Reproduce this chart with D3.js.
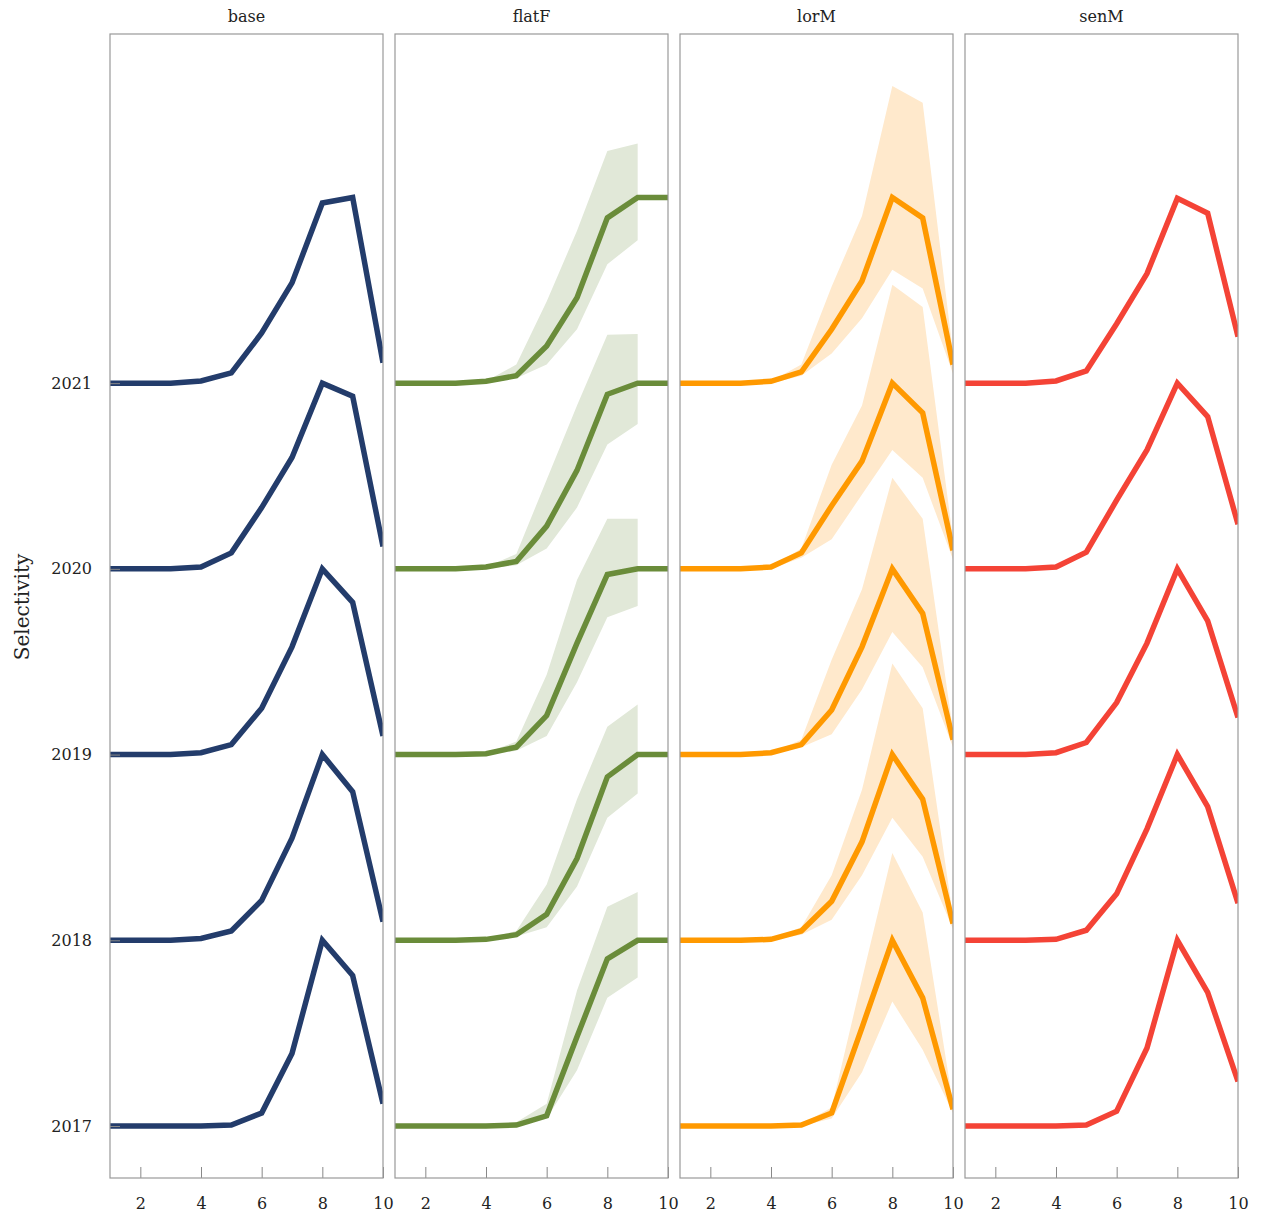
<!DOCTYPE html>
<meta charset="utf-8">
<style>
  body { margin: 0; background: #fff; }
  text { font-family: "DejaVu Serif", "Liberation Serif", serif; fill: #222; }
  .frame { fill: none; stroke: #999; stroke-width: 1.2px; }
  .axis path { display: none; }
  .axis line { stroke: #888; }
</style>
<body>
<script src="https://d3js.org/d3.v7.min.js"></script>
<script>
// ages on x, years are stacked ridges (1 selectivity unit = 1 year step)
var ages = [1, 2, 3, 4, 5, 6, 7, 8, 9, 10];
var years = [2017, 2018, 2019, 2020, 2021];
var panels = ["base", "flatF", "lorM", "senM"];
var xTicks = [2, 4, 6, 8, 10];

// rows = years 2017..2021, cols = ages 1..10
var baseSel = [
  [0, 0, 0, 0, 0.005, 0.07, 0.39, 1.0, 0.81, 0.12],
  [0, 0, 0, 0.01, 0.05, 0.215, 0.55, 1.0, 0.80, 0.10],
  [0, 0, 0, 0.01, 0.054, 0.25, 0.58, 1.0, 0.82, 0.10],
  [0, 0, 0, 0.01, 0.086, 0.33, 0.60, 1.0, 0.93, 0.12],
  [0, 0, 0, 0.012, 0.055, 0.27, 0.54, 0.97, 1.0, 0.11]
];

var flatFSel = [
  [0, 0, 0, 0, 0.005, 0.055, 0.48, 0.90, 1.0, 1.0],
  [0, 0, 0, 0.005, 0.03, 0.14, 0.44, 0.88, 1.0, 1.0],
  [0, 0, 0, 0.005, 0.04, 0.21, 0.60, 0.97, 1.0, 1.0],
  [0, 0, 0, 0.01, 0.04, 0.23, 0.53, 0.94, 1.0, 1.0],
  [0, 0, 0, 0.01, 0.04, 0.20, 0.46, 0.89, 1.0, 1.0]
];
var flatFLo = [
  [0, 0, 0, 0, 0, 0.04, 0.30, 0.69, 0.80, null],
  [0, 0, 0, 0, 0.02, 0.07, 0.29, 0.66, 0.79, null],
  [0, 0, 0, 0, 0.02, 0.10, 0.39, 0.74, 0.80, null],
  [0, 0, 0, 0, 0.02, 0.11, 0.33, 0.67, 0.78, null],
  [0, 0, 0, 0, 0.027, 0.10, 0.29, 0.64, 0.77, null]
];
var flatFHi = [
  [0, 0, 0, 0, 0.02, 0.12, 0.73, 1.18, 1.26, null],
  [0, 0, 0, 0.01, 0.05, 0.30, 0.76, 1.15, 1.27, null],
  [0, 0, 0, 0.01, 0.07, 0.43, 0.94, 1.27, 1.27, null],
  [0, 0, 0, 0.01, 0.08, 0.48, 0.88, 1.26, 1.265, null],
  [0, 0, 0, 0.01, 0.10, 0.44, 0.82, 1.25, 1.29, null]
];

var lorMSel = [
  [0, 0, 0, 0, 0.005, 0.07, 0.53, 1.0, 0.69, 0.09],
  [0, 0, 0, 0.005, 0.05, 0.21, 0.53, 1.0, 0.76, 0.09],
  [0, 0, 0, 0.01, 0.054, 0.24, 0.58, 1.0, 0.76, 0.08],
  [0, 0, 0, 0.01, 0.086, 0.34, 0.58, 1.0, 0.84, 0.10],
  [0, 0, 0, 0.01, 0.06, 0.29, 0.55, 1.0, 0.89, 0.10]
];
var lorMLo = [
  [0, 0, 0, 0, 0, 0.04, 0.29, 0.67, 0.41, 0.07],
  [0, 0, 0, 0, 0.03, 0.11, 0.35, 0.66, 0.45, 0.06],
  [0, 0, 0, 0, 0.04, 0.11, 0.35, 0.66, 0.47, 0.04],
  [0, 0, 0, 0, 0.06, 0.16, 0.40, 0.64, 0.49, 0.05],
  [0, 0, 0, 0, 0.04, 0.16, 0.35, 0.61, 0.51, 0.05]
];
var lorMHi = [
  [0, 0, 0, 0, 0.01, 0.10, 0.79, 1.47, 1.15, 0.12],
  [0, 0, 0, 0.01, 0.07, 0.35, 0.81, 1.49, 1.25, 0.13],
  [0, 0, 0, 0.01, 0.08, 0.51, 0.89, 1.49, 1.27, 0.13],
  [0, 0, 0, 0.01, 0.11, 0.56, 0.88, 1.53, 1.41, 0.16],
  [0, 0, 0, 0.01, 0.10, 0.52, 0.90, 1.60, 1.51, 0.16]
];

var senMSel = [
  [0, 0, 0, 0, 0.005, 0.08, 0.42, 1.0, 0.72, 0.24],
  [0, 0, 0, 0.005, 0.054, 0.25, 0.60, 1.0, 0.72, 0.20],
  [0, 0, 0, 0.01, 0.065, 0.28, 0.60, 1.0, 0.72, 0.20],
  [0, 0, 0, 0.01, 0.09, 0.37, 0.64, 1.0, 0.82, 0.24],
  [0, 0, 0, 0.012, 0.066, 0.32, 0.59, 0.995, 0.915, 0.25]
];

var lineColors = ["#233c6b", "#6a8c3a", "#ff9900", "#f44336"];
var bandColors = ["none", "#e1e8d8", "#ffe9cc", "none"];
var selData = [baseSel, flatFSel, lorMSel, senMSel];
var loData = [null, flatFLo, lorMLo, null];
var hiData = [null, flatFHi, lorMHi, null];

var width = 1261, height = 1222;
var panelW = 273, panelGap = 12;
var plotLeft = 110, plotTop = 34, plotBottom = 1178;

var svg = d3.select("body").append("svg")
    .attr("width", width)
    .attr("height", height);

var y = d3.scaleLinear()
    .domain([2016.72, 2022.88])
    .range([plotBottom, plotTop]);

// y axis title
svg.append("text")
    .attr("transform", "translate(29," + 607 + ") rotate(-90)")
    .attr("text-anchor", "middle")
    .style("font-size", "20px")
    .text("Selectivity");

panels.forEach(function(name, p) {
  var x0 = plotLeft + p * (panelW + panelGap);
  var x = d3.scaleLinear().domain([1, 10]).range([0, panelW]);

  var g = svg.append("g").attr("transform", "translate(" + x0 + ",0)");

  g.append("clipPath").attr("id", "clip" + p)
    .append("rect")
      .attr("x", 0).attr("y", plotTop)
      .attr("width", panelW).attr("height", plotBottom - plotTop);

  g.append("text")
      .attr("x", panelW / 2)
      .attr("y", 22)
      .attr("text-anchor", "middle")
      .style("font-size", "16px")
      .text(name);

  var plot = g.append("g").attr("clip-path", "url(#clip" + p + ")");

  // ribbons
  if (loData[p]) {
    var area = d3.area()
        .defined(function(d) { return d.lo != null; })
        .x(function(d) { return x(d.age); })
        .y0(function(d) { return y(d.year + d.lo); })
        .y1(function(d) { return y(d.year + d.hi); });
    years.forEach(function(yr, i) {
      var pts = ages.map(function(a, j) {
        return {age: a, year: yr, lo: loData[p][i][j], hi: hiData[p][i][j]};
      });
      plot.append("path")
          .datum(pts)
          .attr("d", area)
          .attr("fill", bandColors[p]);
    });
  }

  var line = d3.line()
      .x(function(d) { return x(d.age); })
      .y(function(d) { return y(d.year + d.v); });

  years.forEach(function(yr, i) {
    var pts = ages.map(function(a, j) { return {age: a, year: yr, v: selData[p][i][j]}; });
    plot.append("path")
        .datum(pts)
        .attr("d", line)
        .attr("fill", "none")
        .attr("stroke", lineColors[p])
        .attr("stroke-width", 5.5)
        .attr("stroke-linejoin", "miter");
  });

  // x axis, ticks pointing inward
  g.append("g")
      .attr("class", "axis")
      .attr("transform", "translate(0," + plotBottom + ")")
      .call(d3.axisBottom(x).tickValues(xTicks).tickSize(-11).tickPadding(20))
      .selectAll("text")
        .style("font-size", "16px")
        .attr("fill", "#222");

  if (p === 0) {
    g.append("g")
        .attr("class", "axis")
        .call(d3.axisLeft(y).tickValues(years).tickFormat(d3.format("d")).tickSize(-10).tickPadding(18))
        .selectAll("text")
          .style("font-size", "16px")
          .attr("fill", "#222");
  }

  g.append("rect")
      .attr("class", "frame")
      .attr("x", 0).attr("y", plotTop)
      .attr("width", panelW).attr("height", plotBottom - plotTop);
});
</script>
</body>
</html>
